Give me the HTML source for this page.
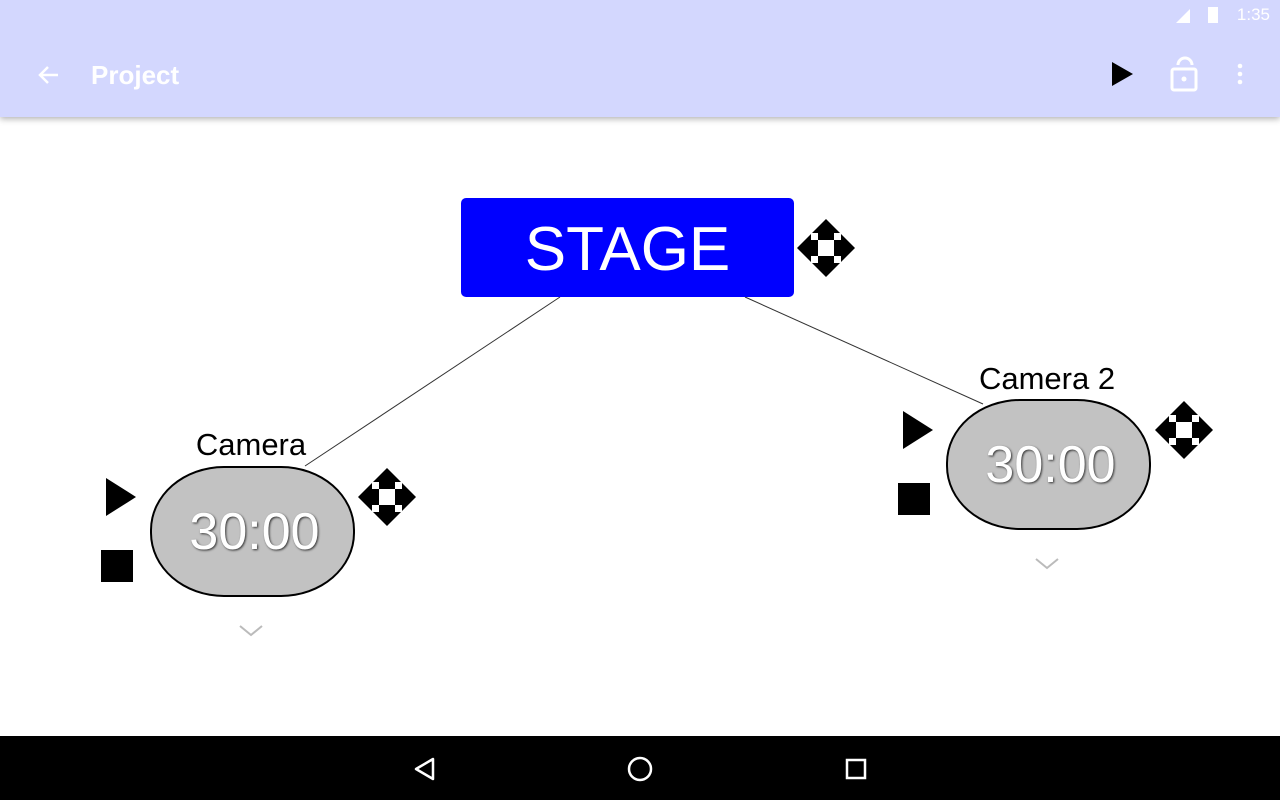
<!DOCTYPE html>
<html><head><style>
body{margin:0;width:1280px;height:800px;overflow:hidden;background:#fff;font-family:"Liberation Sans",sans-serif;position:relative}
.bar{position:absolute;left:0;top:0;width:1280px;height:117px;background:#d3d7fe;box-shadow:0 2px 6px rgba(0,0,0,.3)}
.nav{position:absolute;left:0;top:736px;width:1280px;height:64px;background:#000}
.pill{position:absolute;width:197px;height:127px;background:#c2c2c2;border:2px solid #000;border-radius:74px/64px;color:#fff;font-size:52px;text-align:center;line-height:129px;text-shadow:1px 1px 2px #333;padding-left:4px;box-sizing:content-box}
.lbl{position:absolute;font-size:31px;color:#000;transform:translateX(-50%);white-space:nowrap}
</style></head><body>
<div class="bar"></div>
<div style="position:absolute;right:10px;top:5px;color:#fff;font-size:17px">1:35</div>
<svg style="position:absolute;left:1170px;top:4px" width="60" height="22"><polygon points="6,19 20,5 20,19" fill="#fff"/><rect x="38" y="3" width="10" height="16" fill="#fff"/></svg>
<svg style="position:absolute;left:36px;top:62px" width="26" height="26"><path d="M22,13H4M12,5L4,13L12,21" stroke="#fff" stroke-width="2.5" fill="none"/></svg>
<div style="position:absolute;left:91px;top:60px;color:#fff;font-size:26px;font-weight:bold">Project</div>
<svg style="position:absolute;left:1100px;top:55px" width="160" height="40">
<polygon points="12,7 33,19 12,31" fill="#000"/>
<path d="M78,10a7,7 0 0 1 14,0" stroke="#fff" stroke-width="3" fill="none"/>
<rect x="72" y="14" width="24" height="21" rx="2" stroke="#fff" stroke-width="3" fill="none"/><circle cx="84" cy="24" r="2.5" fill="#fff"/>
<circle cx="140" cy="11" r="2.3" fill="#fff"/><circle cx="140" cy="19" r="2.3" fill="#fff"/><circle cx="140" cy="27" r="2.3" fill="#fff"/>
</svg>
<svg style="position:absolute;left:0;top:0" width="1280" height="800">
<line x1="560" y1="297" x2="305" y2="466" stroke="#333" stroke-width="1"/>
<line x1="745" y1="297" x2="983" y2="404" stroke="#333" stroke-width="1"/>
<defs><g id="mv"><polygon points="0,-29 29,0 0,29 -29,0" fill="#000"/><rect x="-15" y="-15" width="30" height="30" fill="#fff"/><rect x="-8" y="-16" width="16" height="8" fill="#000"/><rect x="-8" y="8" width="16" height="8" fill="#000"/><rect x="-16" y="-8" width="8" height="16" fill="#000"/><rect x="8" y="-8" width="8" height="16" fill="#000"/></g></defs>
<use href="#mv" x="826" y="248"/><use href="#mv" x="387" y="497"/><use href="#mv" x="1184" y="430"/>
<polygon points="106,478 136,497 106,516" fill="#000"/><rect x="101" y="550" width="32" height="32" fill="#000"/>
<polygon points="903,411 933,430 903,449" fill="#000"/><rect x="898" y="483" width="32" height="32" fill="#000"/>
<path d="M240,626l11,9l11,-9" stroke="#bbb" stroke-width="2" fill="none"/>
<path d="M1036,559l11,9l11,-9" stroke="#bbb" stroke-width="2" fill="none"/>
</svg>
<div style="position:absolute;left:461px;top:198px;width:333px;height:99px;background:#0000ff;border-radius:5px;color:#fff;font-size:62px;text-align:center;line-height:104px">STAGE</div>
<div class="lbl" style="left:251px;top:427px">Camera</div>
<div class="lbl" style="left:1047px;top:361px">Camera 2</div>
<div class="pill" style="left:150px;top:466px">30:00</div>
<div class="pill" style="left:946px;top:399px">30:00</div>
<div class="nav"></div>
<svg style="position:absolute;left:0;top:736px" width="1280" height="64">
<polygon points="433,23 433,43 416,33" stroke="#fff" stroke-width="2.5" fill="none" stroke-linejoin="round"/>
<circle cx="640" cy="33" r="11" stroke="#fff" stroke-width="2.5" fill="none"/>
<rect x="847" y="24" width="18" height="18" stroke="#fff" stroke-width="2.5" fill="none"/>
</svg>
</body></html>
